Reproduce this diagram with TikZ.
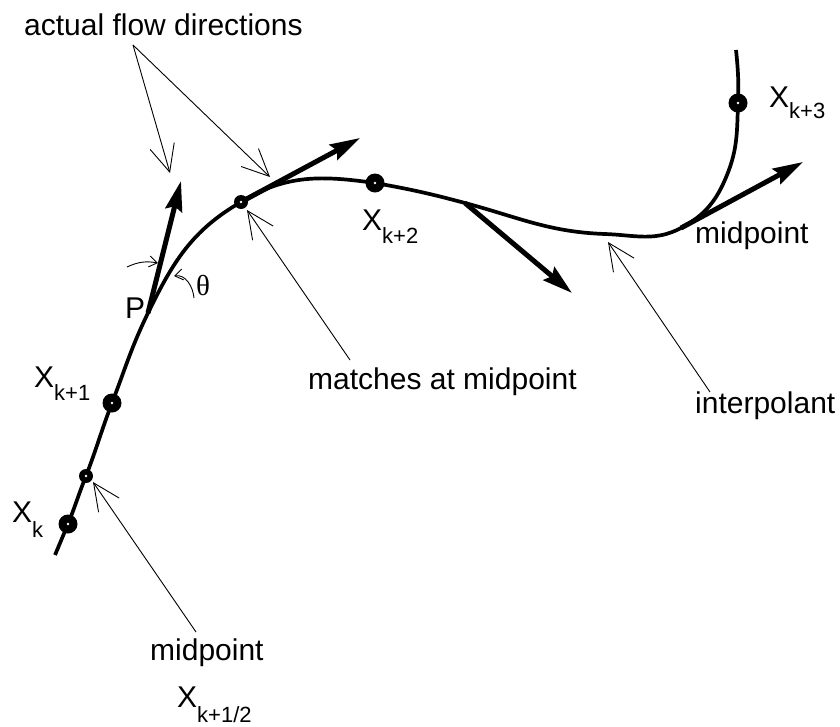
\documentclass[tikz,border=0pt]{standalone}
\usepackage{fontspec}
\setmainfont{Liberation Sans}
\newfontfamily\greekserif{Liberation Serif}
\usetikzlibrary{arrows.meta}

\tikzset{
  curve/.style={line width=3.7pt},
  flow/.style={line width=5pt, -{Stealth[length=30pt,width=17pt,inset=4pt]}},
  pointer/.style={line width=0.9pt, -{Straight Barb[length=27pt,width=25pt]}},
  anglemark/.style={line width=0.9pt, -{Straight Barb[length=8pt,width=11pt]}},
  knot/.style={circle, fill=black, inner sep=0pt, minimum size=19pt},
  halfknot/.style={circle, fill=black, inner sep=0pt, minimum size=14pt},
  lbl/.style={anchor=base west, inner sep=0pt, font=\fontsize{30}{36}\selectfont},
}
% X with a lowered subscript: #1 = drop in pt, #2 = subscript text
\newcommand{\Xsub}[2]{X\raisebox{-#1pt}{\fontsize{22}{22}\selectfont #2}}

\begin{document}
\begin{tikzpicture}[x=1pt,y=1pt]
\useasboundingbox (0,0) rectangle (840,-726);

% points on the interpolant
\coordinate (s)   at (55,-555);
\coordinate (xk)  at (68,-524);
\coordinate (m1)  at (86,-476);
\coordinate (xk1) at (112,-403);
\coordinate (P)   at (148,-313);
\coordinate (m2)  at (241,-202);
\coordinate (xk2) at (375,-183);
\coordinate (a3)  at (465,-203);
\coordinate (bt)  at (605,-234);
\coordinate (m3)  at (681,-228);
\coordinate (bend) at (727,-175);
\coordinate (xk3) at (738,-103);
\coordinate (top) at (736,-50);

% the interpolant
\draw[curve] (s) to[out=67,in=247] (xk) to[out=68,in=248] (m1)
  to[out=69,in=249] (xk1) to[out=69,in=244] (P) to[out=64,in=210] (m2)
  to[out=32,in=172] (xk2) to[out=-10,in=165] (a3) to[out=-15,in=178] (bt)
  to[out=-2,in=208] (m3) to[out=28,in=248] (bend) to[out=68,in=268] (xk3)
  to[out=88,in=276] (top);

% actual flow directions
\coordinate (fP)  at (181,-181);
\coordinate (fm2) at (360,-138);
\coordinate (fa3) at (572,-293);
\coordinate (fm3) at (803,-162);
\draw[flow] (P) -- (fP);
\draw[flow] (m2) -- (fm2);
\draw[flow] (a3) -- (fa3);
\draw[flow] (m3) -- (fm3);

% data points and midpoints
\foreach \p in {xk,xk1,xk2,xk3}{
  \node[knot] (dot\p) at (\p) {};
  \fill[white] (dot\p.center) circle (1.3pt);
}
\foreach \p in {m1,m2}{
  \node[halfknot] (dot\p) at (\p) {};
  \fill[white] (dot\p.center) circle (1.3pt);
}

% labels
\node[lbl] (tflow)   at (24,-35)   {actual flow directions};
\node[lbl] (tmatch)  at (308,-389) {matches at midpoint};
\node[lbl] (tinterp) at (695,-413) {interpolant};
\node[lbl] (tmid3)   at (695,-243) {midpoint};
\node[lbl] (tmid1)   at (150,-660) {midpoint};
\node[lbl] (lp)      at (125,-318) {P};
\node[lbl, font=\greekserif\fontsize{29}{29}\selectfont] (lth) at (196,-295) {θ};
\node[lbl] (lxk)  at (12,-522)  {\Xsub{15}{k}};
\node[lbl] (lxk1) at (34,-387)  {\Xsub{13}{k+1}};
\node[lbl] (lxk2) at (362,-230) {\Xsub{13}{k+2}};
\node[lbl] (lxk3) at (769,-107) {\Xsub{11}{k+3}};
\node[lbl] (lxh)  at (177,-707) {\Xsub{15}{k+1/2}};

% pointers
\coordinate (flowsrc) at (133,-45);
\coordinate (tipP)    at (170,-173);
\coordinate (tipM)    at (270,-177);
\draw[pointer] (flowsrc) -- (tipP);
\draw[pointer] (flowsrc) -- (tipM);
\coordinate (msrc) at (350,-360);
\coordinate (mtip) at (247,-210);
\draw[pointer] (msrc) -- (mtip);
\coordinate (isrc) at (710,-392);
\coordinate (itip) at (608,-242);
\draw[pointer] (isrc) -- (itip);
\coordinate (hsrc) at (196,-632);
\coordinate (htip) at (93,-482);
\draw[pointer] (hsrc) -- (htip);

% angle marks at P
\coordinate (a1s) at (127,-267);
\coordinate (a1e) at (158,-263);
\draw[anglemark] (a1s) to[out=25,in=170] (a1e);
\coordinate (a2s) at (194,-298);
\coordinate (a2e) at (174,-276);
\draw[anglemark] (a2s) to[out=95,in=10] (a2e);
\end{tikzpicture}
\end{document}
